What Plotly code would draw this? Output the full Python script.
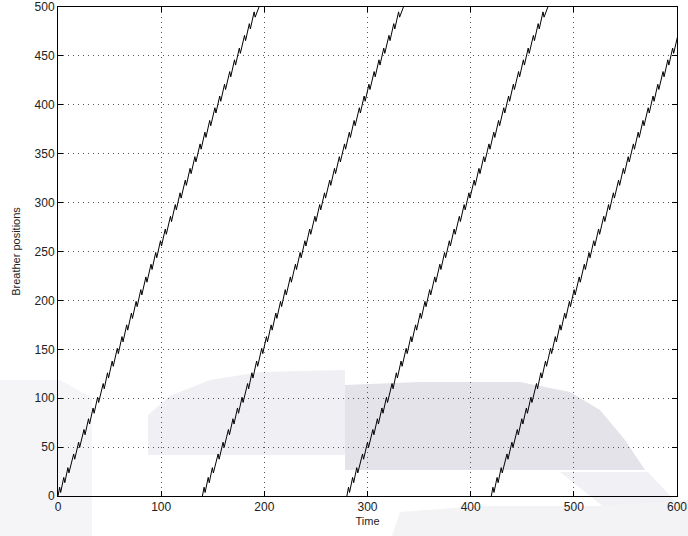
import numpy as np
import plotly.graph_objects as go

# ---- data ----
start_times = [0, 140, 280, 420]                 # breather launch times
anchor_t = [0, 40, 97, 194]                       # trajectory anchors (relative time)
anchor_y = [0, 100, 250, 500]                     # positions at the anchors
jag_y = [4, 14, 24, 38, 50, 63, 74, 85, 96, 110, 121, 133, 146, 158, 170, 182,
         194, 206, 219, 232, 244, 256, 268, 281, 293, 305, 318, 330, 342, 355,
         367, 379, 392, 404, 416, 429, 441, 453, 466, 478, 490]   # positions of the small back-steps
x_ticks = [0, 100, 200, 300, 400, 500, 600]
y_ticks = [0, 50, 100, 150, 200, 250, 300, 350, 400, 450, 500]

# ---- style ----
JAG_UP, JAG_DN, JAG_W = 5.0, 3.0, 1.0
L, R, T, B = 58, 11, 7, 40
W, H = 688, 536
PW, PH = W - L - R, H - T - B


def trajectory(t0):
    ts, ys = [t0], [0.0]
    for yj in jag_y:
        tj = float(np.interp(yj, anchor_y, anchor_t))
        ts += [t0 + tj, t0 + tj + JAG_W]
        ys += [yj + JAG_UP, yj - JAG_DN + 2.6 * JAG_W]
    ts.append(t0 + anchor_t[-1] + 8)
    ys.append(anchor_y[-1] + 20)
    return ts, ys


fig = go.Figure()
for t0 in start_times:
    tx, ty = trajectory(t0)
    fig.add_trace(go.Scatter(x=tx, y=ty, mode="lines",
                             line=dict(color="black", width=1.0),
                             showlegend=False, hoverinfo="skip"))


def px2paper(pts):
    return [((x - L) / PW, (H - B - y) / PH) for x, y in pts]


def path(pts):
    pp = px2paper(pts)
    return "M " + " L ".join(f"{x:.4f},{y:.4f}" for x, y in pp) + " Z"


watermark = [
    ("#f5f5f8", [(0, 380), (60, 380), (92, 398), (92, 536), (0, 536)]),
    ("#f0f0f4", [(148, 455), (148, 415), (170, 396), (210, 380), (260, 372),
                 (345, 370), (345, 455)]),
    ("#e4e3ea", [(345, 470), (345, 385), (420, 382), (520, 382), (570, 392),
                 (600, 410), (625, 440), (645, 470)]),
    ("#f1f1f5", [(560, 472), (648, 472), (688, 515), (688, 536), (640, 536)]),
    ("#f3f3f6", [(392, 536), (400, 512), (480, 506), (600, 506), (688, 500),
                 (688, 536)]),
]
for col, pts in watermark:
    fig.add_shape(type="path", path=path(pts), xref="paper", yref="paper",
                  fillcolor=col, line=dict(width=0), layer="below")

FONT = "Liberation Sans, Arial, sans-serif"
axis_common = dict(
    showline=True, linecolor="black", linewidth=1, mirror="ticks",
    ticks="inside", ticklen=5, tickcolor="black", tickwidth=1,
    showgrid=True, gridcolor="#555555", gridwidth=1, griddash="1px,4px",
    zeroline=False, automargin=False,
    tickfont=dict(family=FONT, size=12, color="#222"),
)

fig.update_xaxes(range=[0, 600], tickvals=x_ticks,
                 title=dict(text="Time", standoff=3,
                            font=dict(family=FONT, size=11, color="#222")),
                 **axis_common)
fig.update_yaxes(range=[0, 500], tickvals=y_ticks,
                 title=dict(text="Breather positions", standoff=11,
                            font=dict(family=FONT, size=11, color="#222")),
                 **axis_common)

fig.update_layout(
    width=W, height=H,
    margin=dict(l=L, r=R, t=T, b=B, autoexpand=False),
    paper_bgcolor="white", plot_bgcolor="rgba(0,0,0,0)",
    showlegend=False,
)

fig.write_html("out.html")
